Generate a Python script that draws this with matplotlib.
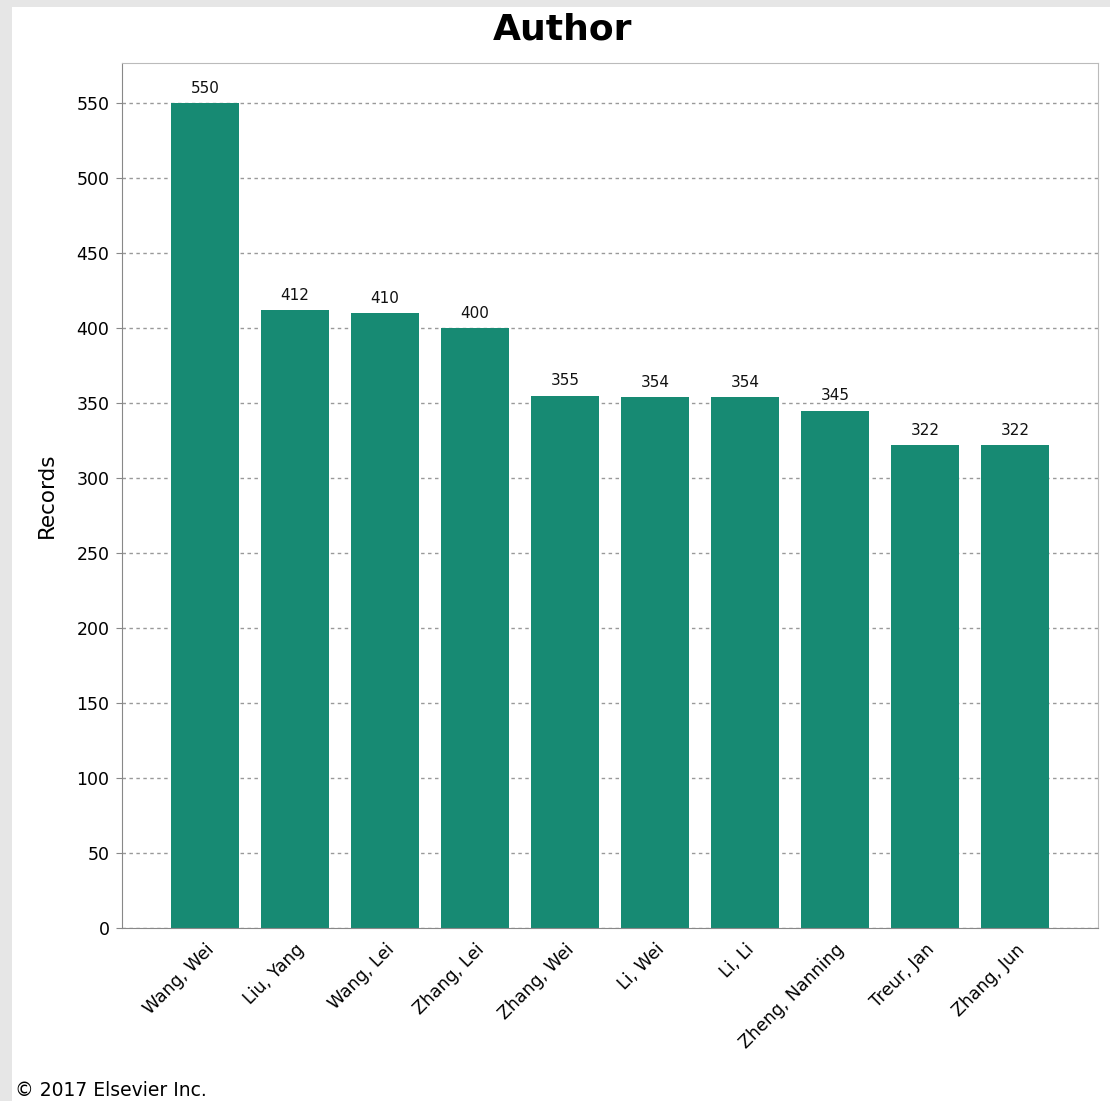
import numpy as np
import matplotlib.pyplot as plt
import matplotlib.transforms as mtransforms
from matplotlib.patches import Rectangle

authors = ['Wang, Wei', 'Liu, Yang', 'Wang, Lei', 'Zhang, Lei', 'Zhang, Wei',
           'Li, Wei', 'Li, Li', 'Zheng, Nanning', 'Treur, Jan', 'Zhang, Jun']
records = [550, 412, 410, 400, 355, 354, 354, 345, 322, 322]
yticks = [0, 50, 100, 150, 200, 250, 300, 350, 400, 450, 500, 550]

bar_color = '#178a73'

fig = plt.figure(figsize=(11.1, 11.01), dpi=100)
fig.patch.set_facecolor('#e6e6e6')
# white inner panel
fig.patches.append(Rectangle((12 / 1110, 0), 1, 1 - 7 / 1101, transform=fig.transFigure,
                             facecolor='white', edgecolor='none', zorder=-1))

ax = fig.add_axes([122 / 1110, 1 - 928 / 1101, (1098 - 122) / 1110, (928 - 63) / 1101])
ax.set_zorder(2)
x = np.arange(len(authors))
bars = ax.bar(x, records, width=0.755, color=bar_color, zorder=2)
for xi, v in zip(x, records):
    ax.text(xi, v + 5, str(v), ha='center', va='bottom', fontsize=11, color='#111111')

ax.set_xlim(-0.92, 9.92)
ax.set_ylim(0, 577)
ax.set_yticks(yticks)
ax.set_xticks(x)
ax.set_xticklabels(authors, rotation=45, ha='right', rotation_mode='anchor', fontsize=12.5)
offset = mtransforms.ScaledTranslation(6 / 100, 0, fig.dpi_scale_trans)
for lab in ax.get_xticklabels():
    lab.set_transform(lab.get_transform() + offset)
ax.tick_params(axis='y', labelsize=12.5, length=4, color='#888888', pad=5)
ax.tick_params(axis='x', length=0, pad=9)
ax.yaxis.grid(True, linestyle=(0, (2.5, 2.5)), color='#999999', linewidth=1, zorder=1)
ax.set_axisbelow(True)
for s in ax.spines.values():
    s.set_color('#bbbbbb')
ax.spines['left'].set_color('#888888')
ax.spines['bottom'].set_color('#888888')
ax.set_ylabel('Records', fontsize=15.5, labelpad=14)

fig.text(563 / 1110, 1 - 30 / 1101, 'Author', ha='center', va='center', fontsize=26, fontweight='bold')
fig.text(15 / 1110, 1 - 1090 / 1101, '\u00a9 2017 Elsevier Inc.', ha='left', va='center', fontsize=13.5)

fig.savefig('out.png', dpi=100, facecolor=fig.get_facecolor())
